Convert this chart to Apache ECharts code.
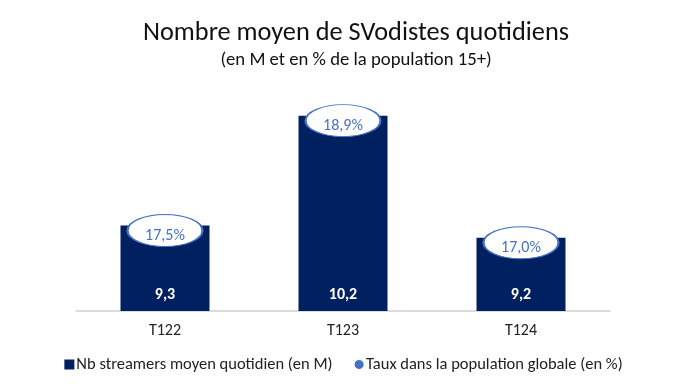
<!DOCTYPE html>
<html><head><meta charset="utf-8">
<script src="https://cdn.jsdelivr.net/npm/echarts@6/dist/echarts.min.js"></script>
<style>html,body{margin:0;padding:0;background:#fff}#c{width:687px;height:390px}</style>
</head><body><div id="c"></div>
<script>
const categories = ['T122', 'T123', 'T124'];
const streamers = [9.3, 10.2, 9.2];
const taux = [17.5, 18.9, 17.0];
const seriesNames = ['Nb streamers moyen quotidien (en M)', 'Taux dans la population globale (en %)'];

const fmt = v => v.toFixed(1).replace('.', ',');
const FONT = 'Carlito, Calibri, Lato, sans-serif';

const chart = echarts.init(document.getElementById('c'));
chart.setOption({
  animation: false,
  title: {
    text: 'Nombre moyen de SVodistes quotidiens',
    subtext: '(en M et en % de la population 15+)',
    left: 351, textAlign: 'center', top: 15, itemGap: 5,
    textStyle: { fontFamily: FONT, fontSize: 26.3, fontWeight: 'normal', color: '#111' },
    subtextStyle: { fontFamily: FONT, fontSize: 18.7, color: '#111' }
  },
  legend: {
    bottom: 12, left: 'center', itemGap: 21, itemWidth: 10, itemHeight: 10,
    textStyle: { fontFamily: FONT, fontSize: 16.5, color: '#222', padding: [0, 0, 0, -3] },
    data: [
      { name: seriesNames[0], icon: 'rect', itemStyle: { color: '#002060' } },
      { name: seriesNames[1], icon: 'circle', itemStyle: { color: '#4472C4', borderColor: '#fff', borderWidth: 1, opacity: 1 } }
    ]
  },
  grid: { left: 76, right: 77, top: 79, bottom: 79 },
  xAxis: {
    type: 'category', data: categories,
    axisLine: { lineStyle: { color: '#d0d0d0', width: 1.5 } },
    axisTick: { show: false },
    axisLabel: { fontFamily: FONT, fontSize: 16, color: '#222', margin: 12 }
  },
  yAxis: { type: 'value', min: 8.6, max: 10.5, show: false, splitLine: { show: false } },
  series: [
    {
      name: seriesNames[0], type: 'bar', data: streamers, barWidth: '50%',
      itemStyle: { color: '#002060' },
      label: { show: true, position: 'insideBottom', distance: 8, color: '#fff', fontWeight: 'bold',
        fontFamily: FONT, fontSize: 16, formatter: p => fmt(p.value) }
    },
    {
      name: seriesNames[1], type: 'scatter', z: 5,
      data: streamers.map((v, i) => ({ value: [categories[i], v] })),
      symbol: 'circle', symbolSize: [75, 32], symbolOffset: [0, 5],
      itemStyle: { color: '#fff', borderColor: '#4472C4', borderWidth: 1.5, opacity: 1 },
      emphasis: { disabled: true },
      label: { show: true, position: 'inside', offset: [0, 5], color: '#4472C4', fontFamily: FONT, fontSize: 16,
        formatter: p => fmt(taux[p.dataIndex]) + '%' }
    }
  ]
});
</script></body></html>
